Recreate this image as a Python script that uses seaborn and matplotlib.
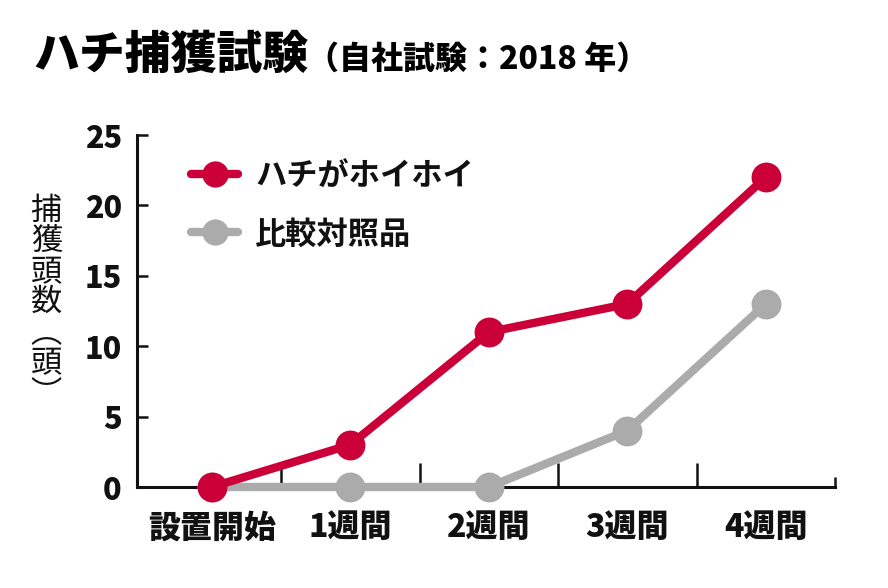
import matplotlib
matplotlib.use("Agg")
import matplotlib.pyplot as plt
import seaborn as sns
import pandas as pd
from matplotlib.ticker import FixedLocator

categories = ["設置開始", "1週間", "2週間", "3週間", "4週間"]
hachi_values = [0, 3, 11, 13, 22]
control_values = [0, 0, 0, 4, 13]
series_names = ["ハチがホイホイ", "比較対照品"]
y_ticks = [0, 5, 10, 15, 20, 25]

sns.set_theme(style="white")
plt.rcParams['font.family'] = ['Noto Sans CJK JP', 'DejaVu Sans']

RED = "#CC0038"
GRAY = "#ABABAB"
INK = "#111111"
HEAVY = "black"

positions = list(range(len(categories)))
df_h = pd.DataFrame({"pos": positions, "val": hachi_values})
df_c = pd.DataFrame({"pos": positions, "val": control_values})

fig = plt.figure(figsize=(8.88, 5.88), dpi=100)
ax = fig.add_axes([137/888, 1-487/588, (835-137)/888, (487-135)/588])

line_kw = dict(linewidth=6, marker="o", markersize=21.5, markeredgewidth=0,
               clip_on=False, solid_capstyle="round")
sns.lineplot(data=df_c, x="pos", y="val", ax=ax, color=GRAY,
             label=series_names[1], zorder=3, **line_kw)
sns.lineplot(data=df_h, x="pos", y="val", ax=ax, color=RED,
             label=series_names[0], zorder=4, **line_kw)

ax.set_xlim(-0.54, 4.5)
ax.set_ylim(0, 25)
ax.set_yticks(y_ticks)
ax.set_xticks(positions)
ax.set_xticklabels(categories)
ax.set_xlabel("")
ax.set_ylabel("")

for s in ["top", "right"]:
    ax.spines[s].set_visible(False)
for s in ["left", "bottom"]:
    ax.spines[s].set_color(INK)
    ax.spines[s].set_linewidth(2.2)

ax.tick_params(axis="y", which="major", left=True, direction="in", length=8,
               width=1.8, color=INK, pad=11, labelsize=22)
ax.tick_params(axis="x", which="major", bottom=True, length=0, pad=17, labelsize=23)
ax.xaxis.set_minor_locator(FixedLocator([0.5, 1.5, 2.5, 3.5, 4.5]))
ax.tick_params(axis="x", which="minor", bottom=True, direction="in", length=17,
               width=1.8, color=INK)
fig.canvas.draw()
mt = ax.xaxis.get_minor_ticks()
mt[-1].tick1line.set_markersize(7)

for lab in ax.get_xticklabels() + ax.get_yticklabels():
    lab.set_fontweight(HEAVY)
    lab.set_color(INK)

# legend, red first
handles, labels = ax.get_legend_handles_labels()
order = [labels.index(series_names[0]), labels.index(series_names[1])]
leg = ax.legend([handles[i] for i in order], [labels[i] for i in order],
                loc="upper left", bbox_to_anchor=(0.06, 0.965), frameon=False,
                prop={"size": 22.5, "weight": "bold"}, handlelength=1.5,
                handletextpad=0.55, labelspacing=0.85, borderaxespad=0,
                markerscale=0.88)
for t in leg.get_texts():
    t.set_color(INK)

# vertical y label
ax.text(-0.13, 0.525, "捕\n獲\n頭\n数\n︵\n頭\n︶", transform=ax.transAxes,
        ha="center", va="center", fontsize=22.5, linespacing=0.94, color=INK)

fig.text(33/888, 1-55/588, "ハチ捕獲試験", fontsize=33, fontweight=HEAVY,
         ha="left", va="center", color="#000000")
fig.text(307/888, 1-59/588, "（自社試験：2018 年）", fontsize=23, fontweight=HEAVY,
         ha="left", va="center", color="#000000")

fig.savefig("out.png", dpi=100)
